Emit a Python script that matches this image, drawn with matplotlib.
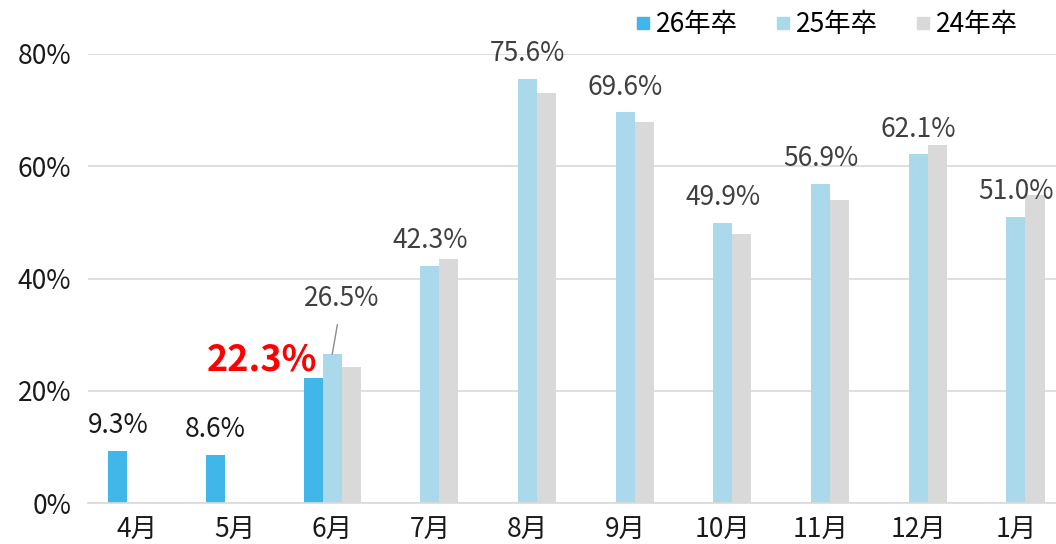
import numpy as np
import matplotlib.pyplot as plt
from matplotlib.lines import Line2D

plt.rcParams['font.family'] = ['Noto Sans CJK JP', 'DejaVu Sans']

months = ["4月", "5月", "6月", "7月", "8月", "9月", "10月", "11月", "12月", "1月"]
series_names = ["26年卒", "25年卒", "24年卒"]

grad26 = [9.3, 8.6, 22.3, None, None, None, None, None, None, None]
grad25 = [None, None, 26.5, 42.3, 75.6, 69.6, 49.9, 56.9, 62.1, 51.0]
grad24 = [None, None, 24.2, 43.5, 73.1, 67.8, 48.0, 54.0, 63.8, 54.9]

COLORS = ["#41B7E9", "#AAD9EB", "#D9D9D9"]
GRID = "#D9D9D9"
FS = 19


def vals(series):
    return np.array([np.nan if v is None else v for v in series])


def main():

    fig = plt.figure(figsize=(10.56, 5.44), dpi=100)
    ax = fig.add_axes([88 / 1056, 41 / 544, 968 / 1056, 449 / 544])

    x = np.arange(len(months))
    w = 0.195

    all_series = [vals(grad26), vals(grad25), vals(grad24)]
    for i, (data, color) in enumerate(zip(all_series, COLORS)):
        ax.bar(x + (i - 1) * w, data, width=w, color=color, zorder=2)

    # labels for 26年卒 (black), the latest month in red
    for i, v in enumerate(grad26):
        if v is None:
            continue
        if i == 2:
            ax.annotate(f"{v:.1f}%", (x[i] - w, v), xytext=(-37, 13),
                        textcoords="offset points", ha="center", va="center",
                        fontsize=26, fontweight="bold", color="#FF0000")
        else:
            ax.annotate(f"{v:.1f}%", (x[i] - w, v), xytext=(0, 18),
                        textcoords="offset points", ha="center", va="center",
                        fontsize=FS, color="#1A1A1A")

    # labels for 25年卒 (grey)
    for i, v in enumerate(grad25):
        if v is None:
            continue
        if i == 2:
            ax.annotate(f"{v:.1f}%", (x[i], v), xytext=(7, 40),
                        textcoords="offset points", ha="center", va="center",
                        fontsize=FS, color="#404040",
                        arrowprops=dict(arrowstyle="-", color="#8C8C8C",
                                        lw=1, shrinkA=7, shrinkB=0))
        else:
            ax.annotate(f"{v:.1f}%", (x[i], v), xytext=(0, 18),
                        textcoords="offset points", ha="center", va="center",
                        fontsize=FS, color="#404040", clip_on=False)

    ax.set_xlim(-0.5, 9.41)
    ax.set_ylim(0, 80)
    ax.set_yticks([0, 20, 40, 60, 80])
    ax.set_yticklabels([f"{t}%" for t in [0, 20, 40, 60, 80]])
    ax.set_xticks(x)
    ax.set_xticklabels(months)

    ax.grid(axis="y", color=GRID, lw=1.2, zorder=0)
    ax.tick_params(axis="both", length=0, labelsize=FS, colors="#1A1A1A")
    ax.tick_params(axis="y", pad=12)
    ax.tick_params(axis="x", pad=10)
    for s in ["top", "right", "left"]:
        ax.spines[s].set_visible(False)
    ax.spines["bottom"].set_color(GRID)
    ax.spines["bottom"].set_linewidth(1.2)

    handles = [Line2D([], [], marker="s", ls="", color=c, markersize=8)
               for c in COLORS]
    fig.legend(handles, series_names, ncol=3, loc="center right",
               bbox_to_anchor=(0.974, 0.955), frameon=False, fontsize=FS,
               handlelength=0.6, handletextpad=0.2, columnspacing=1.4,
               borderaxespad=0)

    fig.savefig("out.png", dpi=100)


if __name__ == "__main__":

    main()
